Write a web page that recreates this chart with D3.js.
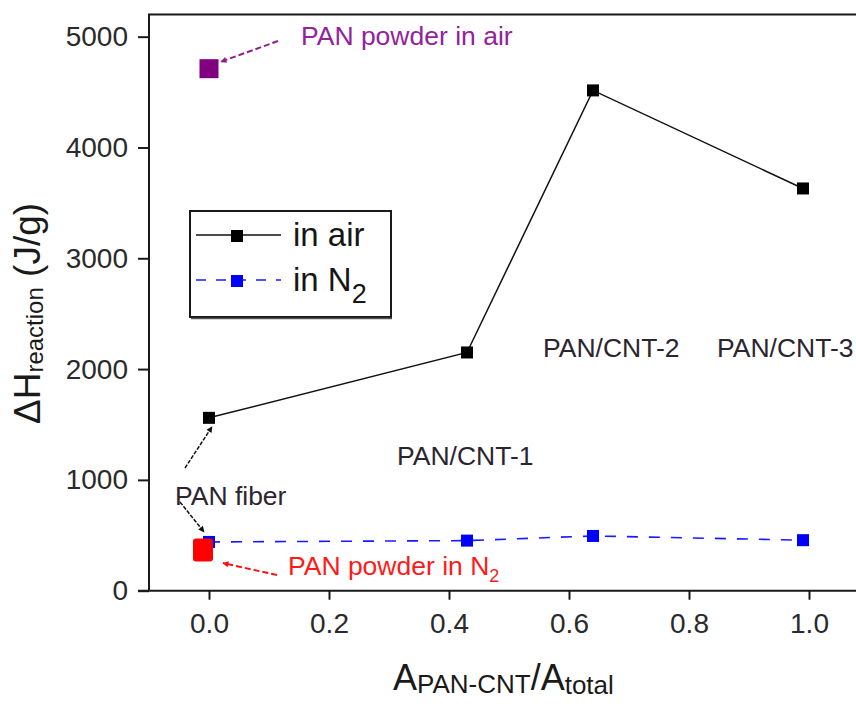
<!DOCTYPE html>
<html>
<head>
<meta charset="utf-8">
<script src="https://cdn.jsdelivr.net/npm/d3@7/dist/d3.min.js"></script>
<style>
  html, body { margin: 0; padding: 0; background: #fff; }
  svg { display: block; font-family: "Liberation Sans", Arial, sans-serif; }
</style>
</head>
<body>
<svg id="chart" width="856" height="704"></svg>
<script>
// Reaction enthalpy vs. PAN-CNT area fraction
const fraction   = [0, 0.43, 0.64, 0.99];
const airValues  = [1560, 2150, 4515, 3630];
const n2Values   = [440, 452, 494, 456];
const powderAir  = { x: 0, value: 4711 };
const powderN2   = { x: -0.01, value: 367 };
const yTicks     = [0, 1000, 2000, 3000, 4000, 5000];
const xTicks     = [0, 0.2, 0.4, 0.6, 0.8, 1.0];
const sampleLabels = ["PAN/CNT-1", "PAN/CNT-2", "PAN/CNT-3"];

const svg = d3.select("#chart");
const x = d3.scaleLinear().domain([-0.1, 1.1]).range([149, 869]);
const y = d3.scaleLinear().domain([0, 5200]).range([590.7, 14.5]);
const ink = "#1a1a1a";

// arrowheads
const defs = svg.append("defs");
function arrowHead(id, color) {
  defs.append("marker")
    .attr("id", id).attr("viewBox", "0 0 10 10")
    .attr("refX", 9).attr("refY", 5)
    .attr("markerWidth", 10).attr("markerHeight", 6)
    .attr("orient", "auto").attr("markerUnits", "userSpaceOnUse")
    .append("path").attr("d", "M0,0 L10,5 L0,10 Z").attr("fill", color);
}
arrowHead("ahBlack", "#111");
arrowHead("ahPurple", "#8e1d8e");
arrowHead("ahRed", "#ff1010");

// axes
const yAxis = d3.axisLeft(y).tickValues(yTicks).tickFormat(d3.format("d"))
  .tickSize(11).tickPadding(10);
const gy = svg.append("g").attr("transform", `translate(${x.range()[0]},0)`).call(yAxis);
gy.select(".domain").remove();
gy.selectAll(".tick line").attr("stroke", ink).attr("stroke-width", 2);
gy.selectAll(".tick text").attr("font-size", 28).attr("fill", "#2a2a2a")
  .attr("font-family", "Liberation Sans, Arial, sans-serif");

const xAxis = d3.axisBottom(x).tickValues(xTicks).tickFormat(d3.format(".1f"))
  .tickSize(9).tickPadding(13);
const gx = svg.append("g").attr("transform", `translate(0,${y(0)})`).call(xAxis);
gx.select(".domain").remove();
gx.selectAll(".tick line").attr("stroke", ink).attr("stroke-width", 2);
gx.selectAll(".tick text").attr("font-size", 28).attr("fill", "#2a2a2a")
  .attr("font-family", "Liberation Sans, Arial, sans-serif");

// frame
svg.append("line").attr("x1", x.range()[0]).attr("x2", x.range()[0])
  .attr("y1", y.range()[1]).attr("y2", y(0)).attr("stroke", ink).attr("stroke-width", 2);
svg.append("line").attr("x1", x.range()[0] - 11).attr("x2", x.range()[1])
  .attr("y1", y(0)).attr("y2", y(0)).attr("stroke", ink).attr("stroke-width", 2);
svg.append("line").attr("x1", x.range()[0] - 1).attr("x2", x.range()[1])
  .attr("y1", y.range()[1]).attr("y2", y.range()[1]).attr("stroke", ink).attr("stroke-width", 2);

// axis titles
const yTitle = svg.append("text")
  .attr("transform", `translate(40,424) rotate(-90)`)
  .attr("fill", ink).attr("font-size", 37);
yTitle.append("tspan").text("\u0394H");
yTitle.append("tspan").attr("font-size", 24).attr("dy", 3).text("reaction");
yTitle.append("tspan").attr("dy", -3).text(" (J/g)");

const xTitle = svg.append("text")
  .attr("x", 393).attr("y", 690).attr("fill", ink).attr("font-size", 36);
xTitle.append("tspan").text("A");
xTitle.append("tspan").attr("font-size", 26).attr("dy", 3).text("PAN-CNT");
xTitle.append("tspan").attr("dy", -3).text("/A");
xTitle.append("tspan").attr("font-size", 26).attr("dy", 4).text("total");

// series lines
const line = d3.line().x(d => x(d[0])).y(d => y(d[1]));
const airPts = fraction.map((f, i) => [f, airValues[i]]);
const n2Pts  = fraction.map((f, i) => [f, n2Values[i]]);

svg.append("path").attr("d", line(n2Pts)).attr("fill", "none")
  .attr("stroke", "#1a1aff").attr("stroke-width", 1.6).attr("stroke-dasharray", "11,11");
svg.append("path").attr("d", line(airPts)).attr("fill", "none")
  .attr("stroke", "#111").attr("stroke-width", 1.5);

const sq = 12;
svg.selectAll("rect.air").data(airPts).enter().append("rect").attr("class", "air")
  .attr("x", d => x(d[0]) - sq / 2).attr("y", d => y(d[1]) - sq / 2)
  .attr("width", sq).attr("height", sq).attr("fill", "#000");
svg.selectAll("rect.n2").data(n2Pts).enter().append("rect").attr("class", "n2")
  .attr("x", d => x(d[0]) - sq / 2).attr("y", d => y(d[1]) - sq / 2)
  .attr("width", sq).attr("height", sq).attr("fill", "#0000ff");

// reference powders
svg.append("rect")
  .attr("x", x(powderAir.x) - 9.5).attr("y", y(powderAir.value) - 9.5)
  .attr("width", 19).attr("height", 19).attr("fill", "#800080");
svg.append("rect")
  .attr("x", x(powderN2.x) - 10).attr("y", y(powderN2.value) - 11.5)
  .attr("width", 20).attr("height", 23).attr("rx", 3).attr("fill", "#ff0000");

// annotations
const annFont = 26.5;
svg.append("text").attr("x", 301).attr("y", 45).attr("font-size", annFont)
  .attr("fill", "#94229a").text("PAN powder in air");
svg.append("line")
  .attr("x1", 278).attr("y1", 41)
  .attr("x2", x(powderAir.x) + 12).attr("y2", y(powderAir.value) - 7)
  .attr("stroke", "#8e1d8e").attr("stroke-width", 2).attr("stroke-dasharray", "6,3")
  .attr("marker-end", "url(#ahPurple)");

const dark = "#2c2530";
svg.append("text").attr("x", 397).attr("y", 465).attr("font-size", annFont)
  .attr("fill", dark).text(sampleLabels[0]);
svg.append("text").attr("x", 543).attr("y", 357).attr("font-size", annFont)
  .attr("fill", dark).text(sampleLabels[1]);
svg.append("text").attr("x", 717).attr("y", 357).attr("font-size", annFont)
  .attr("fill", dark).text(sampleLabels[2]);

svg.append("text").attr("x", 175).attr("y", 505).attr("font-size", annFont)
  .attr("fill", dark).text("PAN fiber");
svg.append("line")
  .attr("x1", 185).attr("y1", 468)
  .attr("x2", x(airPts[0][0]) + 3).attr("y2", y(airPts[0][1]) + 9)
  .attr("stroke", "#111").attr("stroke-width", 1.5).attr("stroke-dasharray", "4,1.5")
  .attr("marker-end", "url(#ahBlack)");
svg.append("line")
  .attr("x1", 180).attr("y1", 502)
  .attr("x2", x(n2Pts[0][0]) - 5).attr("y2", y(n2Pts[0][1]) - 10)
  .attr("stroke", "#111").attr("stroke-width", 1.5).attr("stroke-dasharray", "4,1.5")
  .attr("marker-end", "url(#ahBlack)");

const redText = svg.append("text").attr("x", 288).attr("y", 575)
  .attr("font-size", annFont).attr("fill", "#ff1a1a");
redText.append("tspan").text("PAN powder in N");
redText.append("tspan").attr("font-size", 18).attr("dy", 7).text("2");
svg.append("line")
  .attr("x1", 277).attr("y1", 575)
  .attr("x2", x(powderN2.x) + 20).attr("y2", y(powderN2.value) + 13)
  .attr("stroke", "#ff1010").attr("stroke-width", 2).attr("stroke-dasharray", "6,3")
  .attr("marker-end", "url(#ahRed)");

// legend
const lg = svg.append("g");
lg.append("rect").attr("x", 190).attr("y", 211).attr("width", 201).attr("height", 106)
  .attr("fill", "#fff").attr("stroke", ink).attr("stroke-width", 2);
lg.append("line").attr("x1", 191).attr("x2", 392).attr("y1", 318.5).attr("y2", 318.5)
  .attr("stroke", "#555").attr("stroke-width", 1.5);
const legendRows = [
  { label: "in air", sub: "", color: "#111", dash: null, yy: 235 },
  { label: "in N", sub: "2", color: "#1a1aff", dash: "10,10", yy: 280 }
];
legendRows.forEach(r => {
  lg.append("line").attr("x1", 196).attr("x2", 281).attr("y1", r.yy).attr("y2", r.yy)
    .attr("stroke", r.color).attr("stroke-width", 1.6)
    .attr("stroke-dasharray", r.dash);
  lg.append("rect").attr("x", 237 - sq / 2).attr("y", r.yy + 1 - sq / 2)
    .attr("width", sq).attr("height", sq).attr("fill", r.color === "#111" ? "#000" : "#0000ff");
  const t = lg.append("text").attr("x", 293).attr("y", r.yy + 11)
    .attr("font-size", 33).attr("fill", "#161616");
  t.append("tspan").text(r.label);
  if (r.sub) t.append("tspan").attr("font-size", 27).attr("dy", 12).text(r.sub);
});
</script>
</body>
</html>
